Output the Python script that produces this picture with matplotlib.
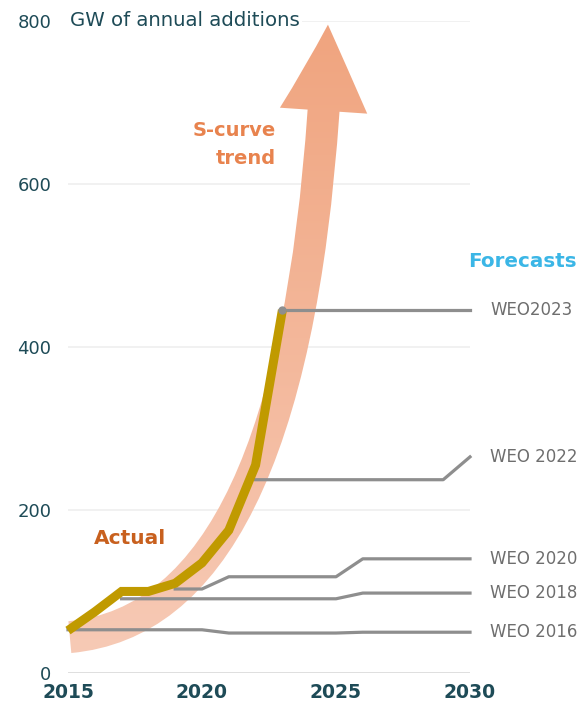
"""Solar PV annual additions: actual vs WEO forecasts, with S-curve trend arrow."""

import numpy as np
import matplotlib.pyplot as plt
from matplotlib.patches import FancyArrowPatch, ArrowStyle
from matplotlib.path import Path
from matplotlib.colors import LinearSegmentedColormap

plt.rcParams["font.family"] = ["DejaVu Sans"]

# --- data -------------------------------------------------------------------
actual_years = [2015, 2016, 2017, 2018, 2019, 2020, 2021, 2022, 2023]
actual_gw = [52, 75, 100, 100, 110, 135, 175, 255, 445]

forecasts = {
    "WEO 2016": ([2015, 2020, 2021, 2025, 2026, 2030], [53, 53, 49, 49, 50, 50]),
    "WEO 2018": ([2017, 2025, 2026, 2030], [91, 91, 98, 98]),
    "WEO 2020": ([2019, 2020, 2021, 2025, 2026, 2030], [103, 103, 118, 118, 140, 140]),
    "WEO 2022": ([2022, 2029, 2030], [237, 237, 265]),
    "WEO2023": ([2023, 2030], [445, 445]),
}

# quadratic bezier for the S-curve trend arrow (start, control, tip)
trend_years = [2015.07, 2023.92, 2024.7]
trend_gw = [44, 71, 795]

y_ticks = [0, 200, 400, 600, 800]
x_ticks = [2015, 2020, 2025, 2030]

TEAL = "#1E4B57"
GOLD = "#C09A00"
GREY = "#8E8E8E"

fig = plt.figure(figsize=(5.84, 7.05), dpi=100)
ax = fig.add_axes([0.1164, 0.0454, 0.6884, 0.9254])

# S-curve arrow, filled with a vertical gradient clipped to the arrow shape
verts = list(zip(trend_years, trend_gw))
arrow = FancyArrowPatch(
    path=Path(verts, [Path.MOVETO, Path.CURVE3, Path.CURVE3]),
    arrowstyle=ArrowStyle.Simple(head_length=62, head_width=63, tail_width=23),
    mutation_scale=1, facecolor="none", edgecolor="none", zorder=1,
)
ax.add_patch(arrow)
cmap = LinearSegmentedColormap.from_list("band", ["#F7CBB7", "#F0A37D"])
grad = np.linspace(0, 1, 256).reshape(-1, 1)
im = ax.imshow(grad, extent=[2014, 2027, 0, 820], origin="lower", aspect="auto",
               cmap=cmap, zorder=1.5)
im.set_clip_path(arrow)

# gridlines
for v in y_ticks:
    ax.axhline(v, color="#D9D9D9" if v == 0 else "#EFEFEF", lw=1.2, zorder=0.5)

# forecasts
for name, (yrs, gw) in forecasts.items():
    ax.plot(yrs, gw, color=GREY, lw=2.3, zorder=3, clip_on=False,
            solid_joinstyle="round")
    ax.text(2030.75, gw[-1], name, color="#6E6E6E", fontsize=12,
            va="center", ha="left")
ax.plot(forecasts["WEO2023"][0][0], forecasts["WEO2023"][1][0], "o",
        color=GREY, ms=5, zorder=5)

# actual
ax.plot(actual_years, actual_gw, color=GOLD, lw=6.5, zorder=4,
        solid_joinstyle="miter", solid_capstyle="butt", clip_on=False)

# annotations
ax.text(2015.08, 800, "GW of annual additions", color=TEAL, fontsize=14.2,
        va="center", ha="left", zorder=6,
        bbox=dict(facecolor="white", edgecolor="none", pad=1.5))
ax.text(2022.75, 648, "S-curve\ntrend", color="#E8834E", fontsize=14,
        fontweight="bold", ha="right", va="center", linespacing=1.6)
ax.text(2017.3, 165, "Actual", color="#C8601E", fontsize=14.5,
        fontweight="bold", ha="center", va="center")
ax.text(2034.0, 505, "Forecasts", color="#3BB6E6", fontsize=14.3,
        fontweight="bold", ha="right", va="center")

ax.set_xlim(2015, 2030)
ax.set_ylim(0, 800)
ax.set_xticks(x_ticks)
ax.set_yticks(y_ticks)
ax.tick_params(length=0)
ax.tick_params(axis="x", pad=7, labelsize=13.5, labelcolor=TEAL)
ax.tick_params(axis="y", pad=12, labelsize=13, labelcolor=TEAL)
for lab in ax.get_xticklabels():
    lab.set_fontweight("bold")
for s in ax.spines.values():
    s.set_visible(False)

fig.savefig("out.png", dpi=100)
